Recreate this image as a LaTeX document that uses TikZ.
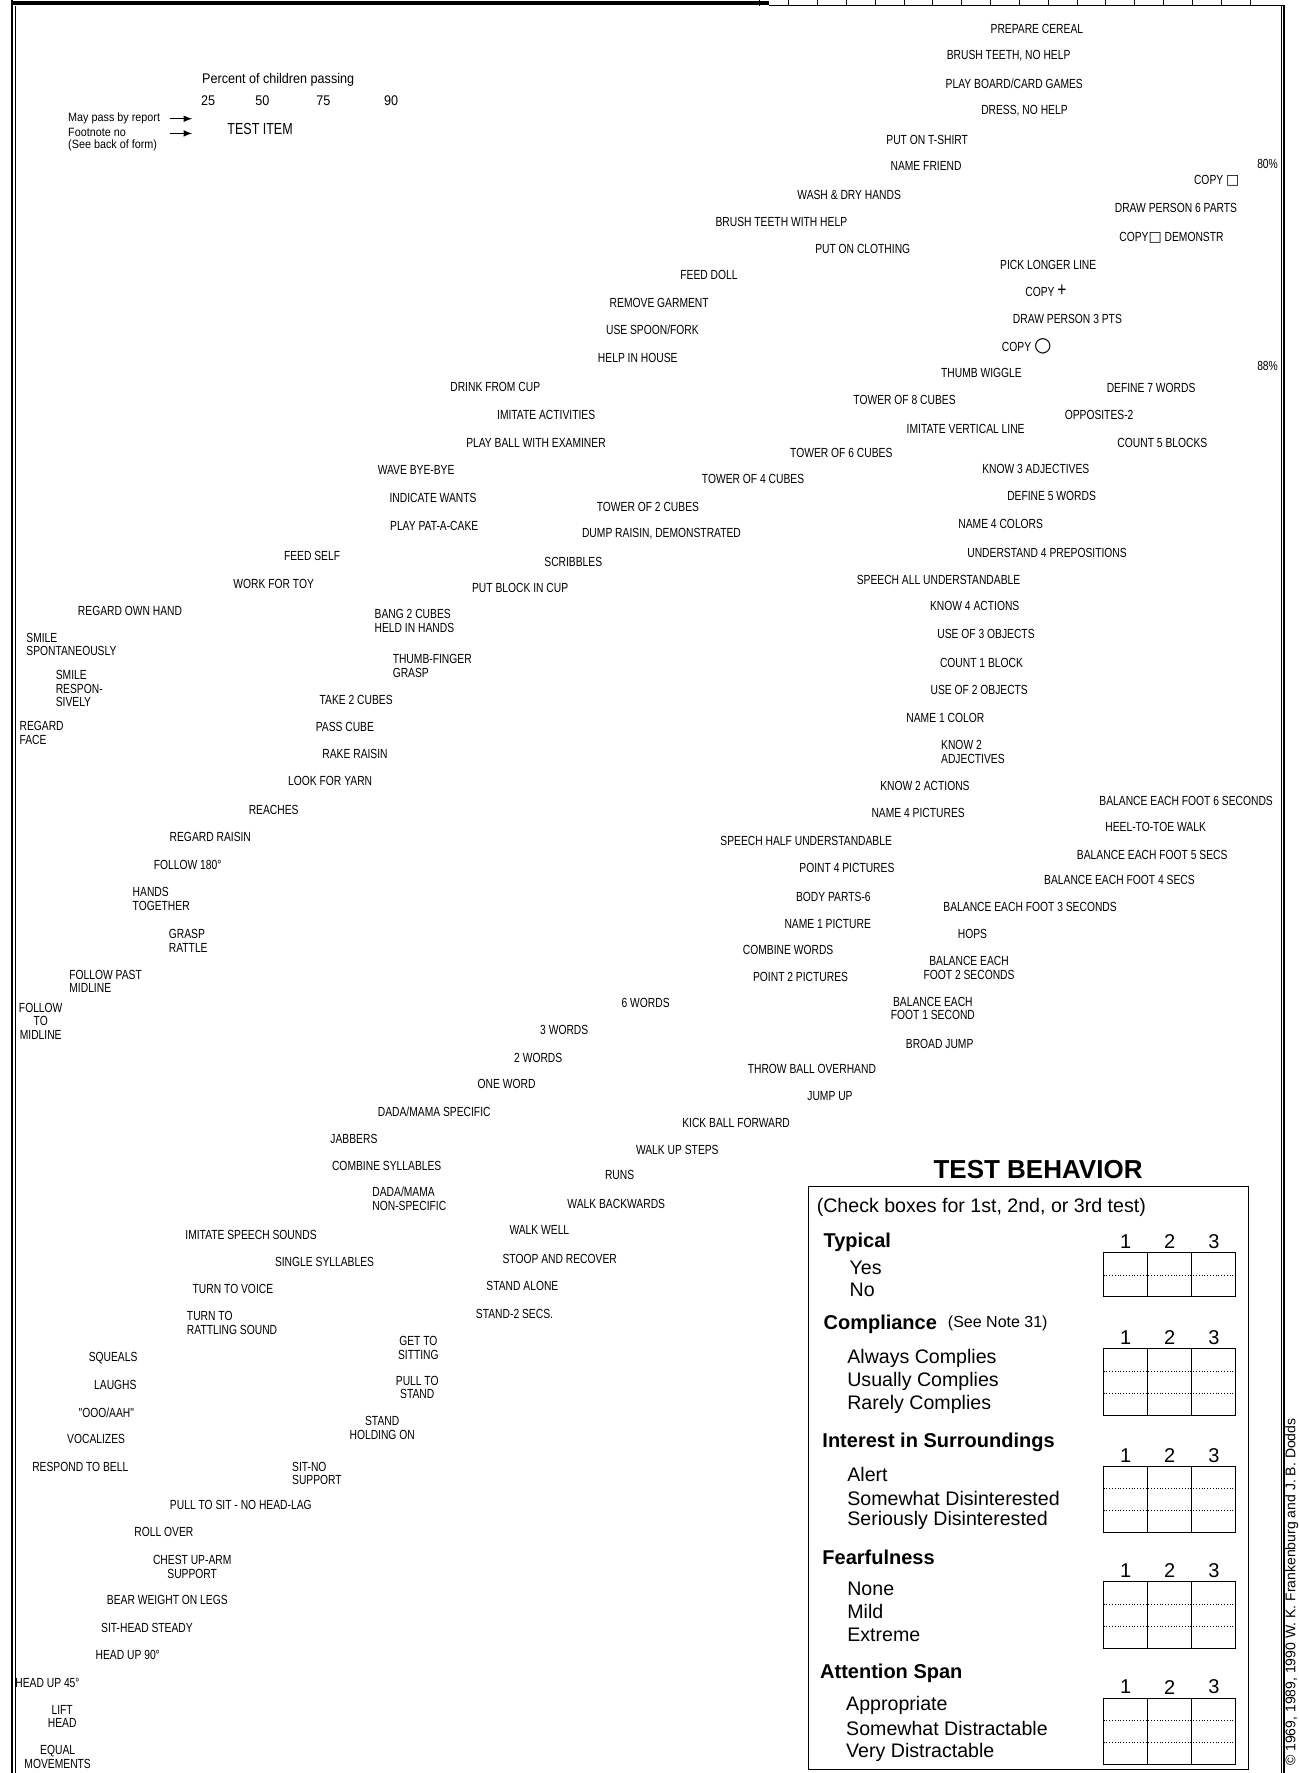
\documentclass[tikz,border=0pt]{standalone}
\usepackage{fontspec}
\setmainfont{Liberation Sans}
\newfontfamily\condfont[FakeStretch=0.78]{Liberation Sans}
\newfontfamily\legfont[FakeStretch=0.9]{Liberation Sans}
\newfontfamily\symfont{DejaVu Sans}
\usepackage{tikz}

\begin{document}
\begin{tikzpicture}[x=0.5653pt,y=-0.5653pt,
    item/.style={font=\condfont\fontsize{6.6}{6.8}\selectfont,inner sep=0pt},
    itemleft/.style={item,align=left,anchor=west},
    itemmid/.style={item,align=center},
    legend/.style={font=\legfont\fontsize{6}{7}\selectfont,inner sep=0pt},
    tbtext/.style={font=\fontsize{9.8}{11}\selectfont,inner sep=0pt,anchor=west},
    tbhead/.style={font=\bfseries\fontsize{10}{12}\selectfont,inner sep=0pt,anchor=west},
    tbnum/.style={font=\fontsize{10}{12}\selectfont,inner sep=0pt}]
\useasboundingbox (0,0) rectangle (1148,1568);
% frame
\draw[line width=1pt] (11,0) -- (11,1568);
\draw[line width=0.6pt] (13.5,5) -- (13.5,1568);
\draw[line width=2pt] (11,2.5) -- (680,2.5);
\draw[line width=0.8pt] (680,5) -- (1135.5,5) -- (1135.5,1568);
\draw[line width=0.5pt] (1133,5) -- (1133,1568);
\foreach \t in {672,697.5,...,1130} \draw[line width=0.5pt] (\t,0) -- (\t,5);
% legend
\node[legend,font=\legfont\fontsize{7}{8}\selectfont] (percent) at (246,71) {Percent of children passing};
\foreach \x/\n in {184/25,232/50,286/75,346/90}
  \node[legend,font=\legfont\fontsize{7}{8}\selectfont] (pc\n) at (\x,89) {\n};
\node[legend,anchor=west] (report) at (60,105) {May pass by report};
\node[legend,anchor=west] (footnote) at (60,117) {Footnote no};
\node[legend,anchor=west] (seeback) at (60,129) {(See back of form)};
\coordinate (reporta) at (150,105);
\coordinate (reportb) at (170,105);
\coordinate (footnotea) at (150,118);
\coordinate (footnoteb) at (170,118);
\draw[-latex,line width=0.5pt] (reporta) -- (reportb);
\draw[-latex,line width=0.5pt] (footnotea) -- (footnoteb);
\node[item,font=\condfont\fontsize{8}{8}\selectfont] (testitem) at (230,114) {TEST ITEM};
% test items
\foreach \x/\y/\t [count=\i] in {
  917/26/{PREPARE CEREAL}, 892/49/{BRUSH TEETH, NO HELP}, 897/74/{PLAY BOARD/CARD GAMES},
  906/98/{DRESS, NO HELP}, 820/124/{PUT ON T-SHIRT}, 819/147/{NAME FRIEND},
  751/172/{WASH \& DRY HANDS}, 1040/184/{DRAW PERSON 6 PARTS}, 691/196/{BRUSH TEETH WITH HELP},
  763/220/{PUT ON CLOTHING}, 927/234/{PICK LONGER LINE}, 627/243/{FEED DOLL},
  583/268/{REMOVE GARMENT}, 944/282/{DRAW PERSON 3 PTS}, 577/292/{USE SPOON/FORK},
  564/317/{HELP IN HOUSE}, 868/330/{THUMB WIGGLE}, 438/342/{DRINK FROM CUP},
  1018/343/{DEFINE 7 WORDS}, 800/354/{TOWER OF 8 CUBES}, 483/367/{IMITATE ACTIVITIES},
  972/367/{OPPOSITES-2}, 854/379/{IMITATE VERTICAL LINE}, 474/392/{PLAY BALL WITH EXAMINER},
  1028/392/{COUNT 5 BLOCKS}, 744/401/{TOWER OF 6 CUBES}, 368/416/{WAVE BYE-BYE},
  916/415/{KNOW 3 ADJECTIVES}, 666/424/{TOWER OF 4 CUBES}, 383/440/{INDICATE WANTS},
  930/439/{DEFINE 5 WORDS}, 573/448/{TOWER OF 2 CUBES}, 384/465/{PLAY PAT-A-CAKE},
  885/463/{NAME 4 COLORS}, 585/472/{DUMP RAISIN, DEMONSTRATED}, 276/492/{FEED SELF},
  926/489/{UNDERSTAND 4 PREPOSITIONS}, 507/497/{SCRIBBLES}, 830/513/{SPEECH ALL UNDERSTANDABLE},
  242/516/{WORK FOR TOY}, 460/520/{PUT BLOCK IN CUP}, 115/540/{REGARD OWN HAND},
  862/536/{KNOW 4 ACTIONS}, 872/561/{USE OF 3 OBJECTS}, 868/586/{COUNT 1 BLOCK},
  866/610/{USE OF 2 OBJECTS}, 315/619/{TAKE 2 CUBES}, 836/635/{NAME 1 COLOR},
  305/643/{PASS CUBE}, 314/667/{RAKE RAISIN}, 292/691/{LOOK FOR YARN},
  818/695/{KNOW 2 ACTIONS}, 1049/708/{BALANCE EACH FOOT 6 SECONDS}, 242/716/{REACHES},
  812/719/{NAME 4 PICTURES}, 1022/731/{HEEL-TO-TOE WALK}, 186/740/{REGARD RAISIN},
  713/744/{SPEECH HALF UNDERSTANDABLE}, 1019/756/{BALANCE EACH FOOT 5 SECS}, 166/765/{FOLLOW 180°},
  749/768/{POINT 4 PICTURES}, 990/778/{BALANCE EACH FOOT 4 SECS}, 737/793/{BODY PARTS-6},
  911/802/{BALANCE EACH FOOT 3 SECONDS}, 732/817/{NAME 1 PICTURE}, 860/826/{HOPS},
  697/840/{COMBINE WORDS}, 708/864/{POINT 2 PICTURES}, 571/887/{6 WORDS},
  499/911/{3 WORDS}, 831/923/{BROAD JUMP}, 476/936/{2 WORDS},
  718/945/{THROW BALL OVERHAND}, 448/959/{ONE WORD}, 734/969/{JUMP UP},
  384/983/{DADA/MAMA SPECIFIC}, 651/993/{KICK BALL FORWARD}, 313/1007/{JABBERS},
  599/1017/{WALK UP STEPS}, 342/1031/{COMBINE SYLLABLES}, 548/1039/{RUNS},
  545/1065/{WALK BACKWARDS}, 222/1092/{IMITATE SPEECH SOUNDS}, 477/1088/{WALK WELL},
  287/1116/{SINGLE SYLLABLES}, 495/1113/{STOOP AND RECOVER}, 206/1140/{TURN TO VOICE},
  462/1137/{STAND ALONE}, 455/1162/{STAND-2 SECS.}, 100/1201/{SQUEALS},
  102/1225/{LAUGHS}, 94/1249/{"OOO/AAH"}, 85/1273/{VOCALIZES},
  71/1297/{RESPOND TO BELL}, 213/1331/{PULL TO SIT - NO HEAD-LAG}, 145/1355/{ROLL OVER},
  148/1415/{BEAR WEIGHT ON LEGS}, 130/1440/{SIT-HEAD STEADY}, 113/1464/{HEAD UP 90°},
  42/1488/{HEAD UP 45°}}
  \node[item] (task\i) at (\x,\y) {\t};
\foreach \x/\y/\t [count=\i] in {
  331/549/{BANG 2 CUBES\\HELD IN HANDS}, 23/570/{SMILE\\SPONTANEOUSLY},
  347/589/{THUMB-FINGER\\GRASP}, 49/609/{SMILE\\RESPON-\\SIVELY}, 17/648/{REGARD\\FACE},
  832/665/{KNOW 2\\ADJECTIVES}, 117/795/{HANDS\\TOGETHER}, 149/832/{GRASP\\RATTLE},
  61/868/{FOLLOW PAST\\MIDLINE}, 329/1060/{DADA/MAMA\\NON-SPECIFIC},
  165/1170/{TURN TO\\RATTLING SOUND}, 258/1303/{SIT-NO\\SUPPORT}}
  \node[itemleft] (lefttask\i) at (\x,\y) {\t};
\foreach \x/\y/\t [count=\i] in {
  857/856/{BALANCE EACH\\FOOT 2 SECONDS}, 825/892/{BALANCE EACH\\FOOT 1 SECOND},
  36/903/{FOLLOW\\TO\\MIDLINE}, 370/1192/{GET TO\\SITTING}, 369/1227/{PULL TO\\STAND},
  338/1263/{STAND\\HOLDING ON}, 170/1386/{CHEST UP-ARM\\SUPPORT},
  55/1518/{LIFT\\HEAD}, 51/1554/{EQUAL\\MOVEMENTS}}
  \node[itemmid] (midtask\i) at (\x,\y) {\t};
\node[item] (copysquare) at (1076,160) {COPY {\symfont\fontsize{7}{7}\selectfont □}};
\node[item] (copydemo) at (1036,210) {COPY{\symfont\fontsize{7}{7}\selectfont □} DEMONSTR};
\node[item] (copycross) at (925,257) {COPY {\fontsize{10}{10}\selectfont +}};
\node[item] (copycircle) at (908,306) {COPY {\symfont\fontsize{10}{10}\selectfont ○}};
\node[item] (pcteighty) at (1121,145) {80\%};
\node[item] (pcteightyeight) at (1121,324) {88\%};
% test behavior
\node[font=\bfseries\fontsize{13}{15}\selectfont,inner sep=0pt] (tbtitle) at (918,1034) {TEST BEHAVIOR};
\draw[line width=0.6pt] (715,1049) rectangle (1104,1565);
\node[tbtext] (check) at (722,1068) {(Check boxes for 1st, 2nd, or 3rd test)};
\foreach \x/\y/\t [count=\i] in {728/1099/Typical, 728/1171/Compliance,
  727/1276/{Interest in Surroundings}, 727/1377/Fearfulness, 725/1480/{Attention Span}}
  \node[tbhead] (head\i) at (\x,\y) {\t};
\node[tbtext,font=\fontsize{8}{10}\selectfont] (note) at (838,1170) {(See Note 31)};
\foreach \x/\y/\t [count=\i] in {751/1121/Yes, 751/1141/No,
  749/1201/{Always Complies}, 749/1222/{Usually Complies}, 749/1242/{Rarely Complies},
  749/1304/Alert, 749/1325/{Somewhat Disinterested}, 749/1345/{Seriously Disinterested},
  749/1405/None, 749/1425/Mild, 749/1446/Extreme,
  748/1508/Appropriate, 748/1529/{Somewhat Distractable}, 748/1550/{Very Distractable}}
  \node[tbtext] (answer\i) at (\x,\y) {\t};
\foreach \gy/\rows [count=\g] in {1108/2,1193/3,1297/3,1399/3,1502/3} {
  \draw[line width=0.5pt] (976,\gy) rectangle (1093,{\gy+\rows*19.5});
  \draw[line width=0.5pt] (1015,\gy) -- (1015,{\gy+\rows*19.5}) (1054,\gy) -- (1054,{\gy+\rows*19.5});
  \foreach \r in {2,...,\rows}
    \draw[line width=0.4pt,densely dotted] (976,{\gy+(\r-1)*19.5}) -- (1093,{\gy+(\r-1)*19.5});
  \foreach \n/\c in {1/995.5,2/1034.5,3/1073.5}
    \node[tbnum] (col\g\n) at (\c,{\gy-10}) {\n};
}
\node[rotate=90,anchor=base west,font=\fontsize{7}{8}\selectfont,inner sep=0pt] (copyright) at (1145.5,1562) {© 1969, 1989, 1990 W. K. Frankenburg and J. B. Dodds};
\end{tikzpicture}
\end{document}
